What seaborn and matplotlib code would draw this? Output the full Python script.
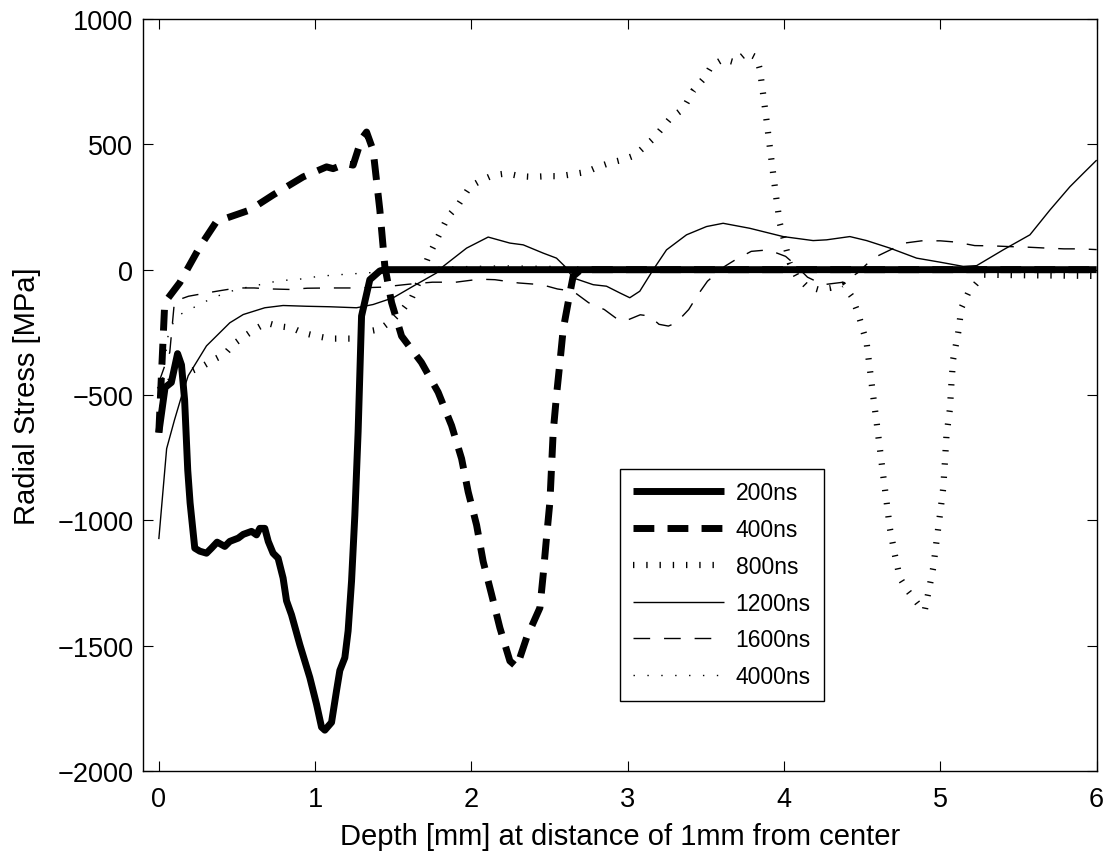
import numpy as np
import pandas as pd
import matplotlib
matplotlib.use("Agg")
import matplotlib.pyplot as plt
import seaborn as sns

# Valores (profundidade em mm, tensão radial em MPa)
x_200 = [0, 0.04, 0.08, 0.12, 0.145, 0.165, 0.185, 0.2, 0.23, 0.262, 0.305, 0.337, 0.373, 0.422, 0.454,
         0.508, 0.54, 0.593, 0.625, 0.646, 0.678, 0.70, 0.731, 0.763, 0.795, 0.817, 0.849, 0.902, 0.966,
         1.009, 1.041, 1.062, 1.105, 1.137, 1.158, 1.19, 1.211, 1.233, 1.254, 1.275, 1.297, 1.35, 1.414,
         1.45, 2.0, 3.0, 4.0, 5.0, 6.0]
y_200 = [-650, -470, -450, -335, -380, -520, -800, -930, -1111, -1123, -1131, -1111, -1087, -1104, -1084,
         -1071, -1056, -1044, -1058, -1032, -1032, -1084, -1131, -1151, -1230, -1321, -1377, -1496, -1627,
         -1734, -1825, -1837, -1806, -1679, -1599, -1548, -1441, -1242, -980, -647, -185, -40, -5,
         0, 0, 0, 0, 0, 0]

x_400 = [0, 0.038, 0.134, 0.262, 0.369, 0.55, 0.582, 0.731, 0.923, 1.073, 1.115, 1.2, 1.243, 1.297, 1.329,
         1.371, 1.414, 1.446, 1.489, 1.553, 1.68, 1.787, 1.873, 1.937, 1.979, 2.033, 2.075, 2.129, 2.182,
         2.246, 2.29, 2.353, 2.438, 2.459, 2.48, 2.502, 2.512, 2.523, 2.544, 2.566, 2.587, 2.63, 2.651,
         2.7, 3.5, 4.5, 6.0]
y_400 = [-650, -131, -52, 91, 192, 231, 238, 298, 370, 410, 403, 423, 417, 522, 549,
         476, 238, 13, -131, -265, -370, -489, -622, -754, -886, -1019, -1164, -1296, -1429,
         -1561, -1585, -1468, -1349, -1217, -1071, -926, -794, -648, -503, -370, -238, -93, -26,
         0, 0, 0, 0]

x_800 = [0, 0.08, 0.188, 0.284, 0.358, 0.422, 0.476, 0.55, 0.614, 0.689, 0.763, 0.849, 0.923, 1.009, 1.094,
         1.254, 1.35, 1.414, 1.5, 1.56, 1.62, 1.67, 1.723, 1.777, 1.851, 1.915, 1.99, 2.065, 2.139, 2.225,
         2.31, 2.395, 2.48, 2.566, 2.65, 2.736, 2.81, 2.886, 2.97, 3.045, 3.163, 3.27, 3.354, 3.419, 3.493,
         3.536, 3.61, 3.685, 3.76, 3.824, 3.845, 3.866, 3.888, 3.909, 3.93, 3.952, 3.973, 4.005, 4.037,
         4.08, 4.144, 4.218, 4.293, 4.378, 4.432, 4.474, 4.528, 4.549, 4.57, 4.592, 4.613, 4.634, 4.656,
         4.677, 4.709, 4.741, 4.794, 4.869, 4.9, 4.933, 4.954, 4.975, 4.997, 5.018, 5.029, 5.039, 5.061,
         5.071, 5.082, 5.114, 5.135, 5.178, 5.242, 5.274, 5.5, 6.0]
y_800 = [-480, -440, -410, -384, -357, -337, -298, -265, -238, -212, -225, -232, -252, -265, -275,
         -275, -245, -238, -198, -160, -110, -40, 50, 119, 212, 258, 331, 357, 377, 384,
         373, 370, 373, 373, 381, 390, 410, 426, 439, 456, 522, 602, 641, 714, 767,
         813, 840, 827, 866, 846, 800, 701, 595, 489, 384, 278, 185, 106, 26,
         -26, -66, -79, -73, -60, -106, -175, -291, -397, -503, -608, -714, -820, -926,
         -1032, -1138, -1230, -1283, -1343, -1360, -1257, -1190, -1085, -979, -873, -767, -661, -556,
         -450, -357, -251, -152, -93, -46, -20, -22, -25]

x_1200 = [0, 0.05, 0.1, 0.14, 0.188, 0.305, 0.454, 0.54, 0.678, 0.795, 0.945, 1.094, 1.265, 1.371, 1.5,
          1.627, 1.777, 1.819, 1.969, 2.107, 2.246, 2.331, 2.459, 2.544, 2.598, 2.651, 2.779, 2.864, 2.95,
          3.013, 3.077, 3.163, 3.248, 3.376, 3.504, 3.61, 3.781, 3.994, 4.186, 4.272, 4.421, 4.528, 4.677,
          4.848, 4.997, 5.146, 5.232, 5.402, 5.573, 5.701, 5.829, 5.914, 6.0]
y_1200 = [-1075, -714, -600, -516, -423, -304, -212, -179, -152, -143, -146, -148, -152, -139, -112,
          -66, -13, 13, 86, 130, 106, 99, 66, 46, 13, -33, -60, -66, -93,
          -112, -86, 0, 79, 139, 172, 185, 165, 132, 116, 119, 132, 116, 86,
          46, 30, 13, 16, 79, 139, 238, 331, 384, 437]

x_1600 = [0, 0.04, 0.07, 0.1, 0.19, 0.305, 0.4, 0.5, 0.61, 0.72, 0.84, 0.95, 1.1, 1.25, 1.42,
          1.6, 1.75, 1.9, 2.05, 2.15, 2.3, 2.45, 2.55, 2.65, 2.75, 2.85, 2.95, 3.01, 3.08, 3.14,
          3.2, 3.26, 3.31, 3.39, 3.45, 3.51, 3.62, 3.69, 3.79, 3.9, 4.01, 4.06, 4.15, 4.25, 4.38,
          4.47, 4.57, 4.68, 4.77, 4.88, 5.0, 5.1, 5.22, 5.33, 5.44, 5.55, 5.68, 5.79, 5.9, 6.0]
y_1600 = [-450, -380, -330, -126, -106, -93, -83, -73, -73, -77, -79, -74, -73, -73, -70,
          -58, -50, -50, -38, -40, -53, -60, -77, -86, -132, -159, -205, -198, -180, -185,
          -218, -225, -212, -159, -99, -46, 13, 40, 73, 79, 53, 26, -30, -60, -50,
          -13, 46, 79, 106, 115, 115, 110, 96, 95, 92, 90, 86, 83, 83, 80]

x_4000 = [0, 0.03, 0.06, 0.08, 0.123, 0.198, 0.273, 0.347, 0.422, 0.497, 0.646, 0.731, 0.817, 0.9, 1.03,
          1.158, 1.329, 1.478, 1.69, 1.8, 2.2, 2.6, 3.0, 4.0, 5.0, 6.0]
y_4000 = [-600, -400, -260, -225, -183, -159, -135, -112, -95, -79, -60, -49, -42, -38, -26,
          -20, -13, -7, -3, 10, 15, 12, 5, 2, 0, 0]

rotulos = ['200ns', '400ns', '800ns', '1200ns', '1600ns', '4000ns']
xs = [x_200, x_400, x_800, x_1200, x_1600, x_4000]
ys = [y_200, y_400, y_800, y_1200, y_1600, y_4000]

# Estilos das linhas (imitando o MATLAB)
estilos = [
    dict(lw=5.0, linestyle='-'),
    dict(lw=5.0, linestyle=(0, (3.0, 1.9))),
    dict(lw=4.5, linestyle=(0, (0.22, 1.9))),
    dict(lw=1.0, linestyle='-'),
    dict(lw=1.0, linestyle=(0, (12, 10))),
    dict(lw=1.0, linestyle=(0, (1, 9))),
]

sns.set_style("ticks")
plt.rcParams['font.family'] = ['Liberation Sans', 'DejaVu Sans']
plt.rcParams['text.color'] = 'black'
plt.rcParams['axes.labelcolor'] = 'black'
plt.rcParams['xtick.color'] = 'black'
plt.rcParams['ytick.color'] = 'black'

fig = plt.figure(figsize=(11.1, 8.54), dpi=100)
ax = fig.add_axes([0.129, 0.096, 0.859, 0.8806])

for rot, x, y, est in zip(rotulos, xs, ys, estilos):
    df = pd.DataFrame({'depth': x, 'stress': y})
    sns.lineplot(data=df, x='depth', y='stress', ax=ax, color='black', label=rot,
                 sort=False, estimator=None, solid_capstyle='butt', **est)

ax.set_xlim(-0.1, 6)
ax.set_ylim(-2000, 1000)
ax.set_xticks(range(0, 7))
ax.set_yticks(range(-2000, 1001, 500))
ax.tick_params(direction='in', length=7, width=0.8, top=True, right=True, labelsize=19.5,
               colors='black')
ax.tick_params(axis='x', pad=11)
ax.tick_params(axis='y', pad=7)
for s in ax.spines.values():
    s.set_linewidth(1.0)
    s.set_color('black')

ax.set_xlabel('Depth [mm] at distance of 1mm from center', fontsize=21, labelpad=7, color='black')
ax.set_ylabel('Radial Stress [MPa]', fontsize=21, labelpad=12, color='black')

leg = ax.legend(loc='upper left', bbox_to_anchor=(0.5, 0.402), borderaxespad=0,
                fontsize=16.5, handlelength=4.0, labelspacing=0.6, handletextpad=0.5,
                borderpad=0.55, fancybox=False, frameon=True, framealpha=1)
leg.get_frame().set_edgecolor('black')
leg.get_frame().set_linewidth(1.0)
for t in leg.get_texts():
    t.set_color('black')

fig.savefig('out.png', dpi=100)
